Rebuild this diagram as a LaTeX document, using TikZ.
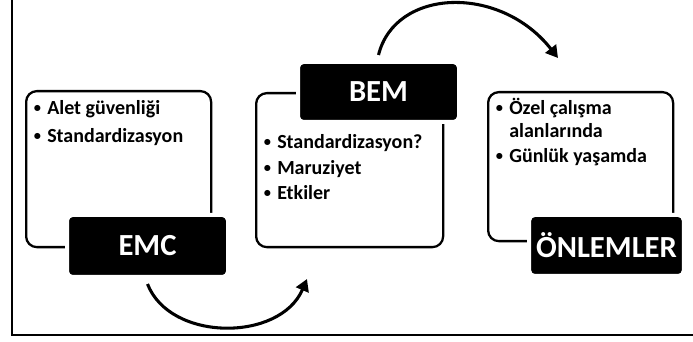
\documentclass[tikz,border=0pt]{standalone}
\usepackage{fontspec}
\setmainfont{Carlito}
\usetikzlibrary{arrows.meta}

\newcommand{\itm}{\makebox[10.5pt][l]{\hspace{0.5pt}\raisebox{0.12em}{\scalebox{0.72}{\textbullet}}}}

\tikzset{
  panel/.style={draw, line width=1.7pt, rounded corners=8pt, fill=white, anchor=north west, inner sep=0pt},
  tag/.style={fill=black, draw=white, line width=3pt, rounded corners=4pt, text=white,
    font=\bfseries\fontsize{23}{28}\selectfont, inner sep=0pt},
  item/.style={font=\bfseries\fontsize{15}{18}\selectfont, anchor=base west, inner sep=0pt},
  arcarrow/.style={line width=2.3pt, -{Triangle[length=9pt,width=10pt]}}
}

\begin{document}
\begin{tikzpicture}[x=0.75pt,y=0.75pt,yscale=-1,xscale=1]
\useasboundingbox (0,0) rectangle (693,342);

% frame
\draw[line width=1.8pt] (12,0) -- (12,335) -- (693,335);

% panels
\node[panel, minimum width=138.75pt, minimum height=117pt] (emcpanel) at (25,90) {};
\node[panel, minimum width=140.25pt, minimum height=115.5pt] (bempanel) at (255,92) {};
\node[panel, minimum width=138.75pt, minimum height=111.75pt] (onlpanel) at (487,91) {};

% tags
\node[tag, minimum width=120.75pt, minimum height=46.5pt] (emc) at (147.5,246) {EMC};
\node[tag, minimum width=120.75pt, minimum height=45pt] (bem) at (378.5,92) {BEM};
\node[tag, minimum width=116pt, minimum height=45.75pt, inner xsep=1.5pt] (onl) at (606.5,245.5) {ÖNLEMLER};

% items
\node[item] (emca) at (33,115) {\itm Alet güvenliği};
\node[item] (emcb) at (33,143) {\itm Standardizasyon};

\node[item] (bema) at (263,149) {\itm Standardizasyon?};
\node[item] (bemb) at (263,175) {\itm Maruziyet};
\node[item] (bemc) at (263,200) {\itm Etkiler};

\node[item] (onla) at (495,115) {\itm Özel çalışma};
\node[item] (onlb) at (495,138) {\phantom{\itm}alanlarında};
\node[item] (onlc) at (495,163) {\itm Günlük yaşamda};

% arrows
\coordinate (lowtip) at (307,279);
\coordinate (hightip) at (558,58);
\draw[arcarrow] (emc.south) ++(0,5) .. controls (170,342) and (280,342) .. (lowtip);
\draw[arcarrow] (bem.north) ++(0,-5) .. controls (395,-12) and (500,-16) .. (hightip);

\end{tikzpicture}
\end{document}
